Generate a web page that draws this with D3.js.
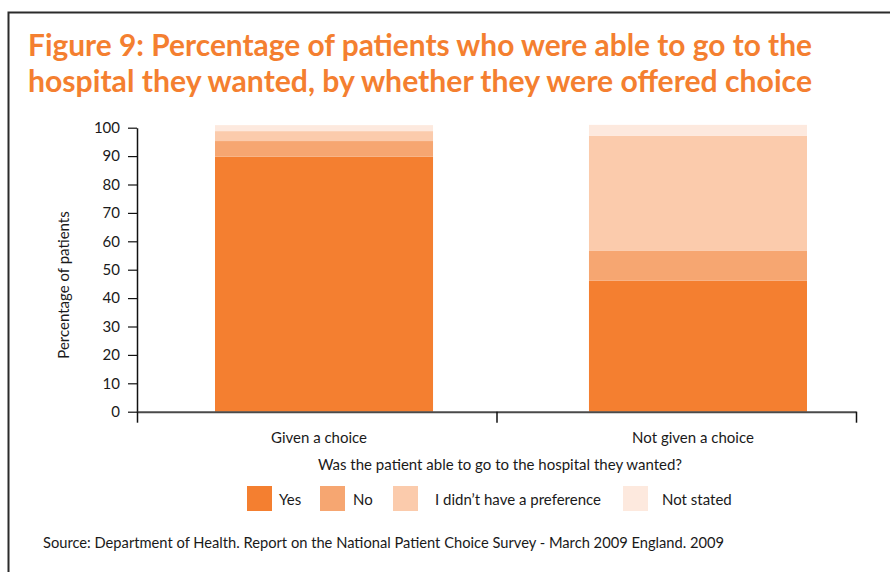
<!DOCTYPE html>
<html>
<head>
<meta charset="utf-8">
<script src="https://cdn.jsdelivr.net/npm/d3@7"></script>
<style>
  html, body { margin: 0; padding: 0; background: #fff; }
  svg { display: block; font-family: Lato, "Open Sans", sans-serif; }
</style>
</head>
<body>
<svg id="chart" width="890" height="572"></svg>
<script>
// ---- data ----
const categories = ["Given a choice", "Not given a choice"];
const seriesNames = ["Yes", "No", "I didn\u2019t have a preference", "Not stated"];
const yesValues = [89.8, 46.1];
const noValues = [5.5, 10.5];
const noPreferenceValues = [3.5, 40.6];
const notStatedValues = [2.1, 3.8];
const yTickValues = [0, 10, 20, 30, 40, 50, 60, 70, 80, 90, 100];

const titleLines = [
  "Figure 9: Percentage of patients who were able to go to the",
  "hospital they wanted, by whether they were offered choice"
];
const yAxisTitle = "Percentage of patients";
const xAxisTitle = "Was the patient able to go to the hospital they wanted?";
const sourceText = "Source: Department of Health. Report on the National Patient Choice Survey - March 2009 England. 2009";

// ---- styles / layout ----
const colors = ["#F47F30", "#F6A671", "#FBCBAC", "#FDE9DE"];
const legendX = [247, 320, 393, 623];
const legendTextX = [279, 353, 435, 662];
const titleWidths = [784, 784];

const table = categories.map((c, i) => ({
  category: c,
  [seriesNames[0]]: yesValues[i],
  [seriesNames[1]]: noValues[i],
  [seriesNames[2]]: noPreferenceValues[i],
  [seriesNames[3]]: notStatedValues[i]
}));

const svg = d3.select("#chart");

// border
svg.append("path")
  .attr("d", "M8.5,572 L8.5,12.5 L890,12.5")
  .attr("fill", "none")
  .attr("stroke", "#2b2b2b")
  .attr("stroke-width", 2);

// title
svg.append("g").selectAll("text")
  .data(titleLines)
  .join("text")
  .attr("x", 28)
  .attr("y", (d, i) => 56 + i * 36)
  .attr("fill", "#F47F30")
  .attr("font-weight", "bold")
  .attr("font-size", 30)
  .attr("textLength", (d, i) => titleWidths[i])
  .attr("lengthAdjust", "spacingAndGlyphs")
  .text(d => d);

// scales
const y = d3.scaleLinear().domain([0, 100]).range([411.7, 127.7]);
const x = d3.scaleBand().domain(categories).range([215, 807]).paddingInner(0.417).paddingOuter(0);
const xBound = d3.scaleLinear().domain([0, categories.length]).range([137, 856]);
const color = d3.scaleOrdinal().domain(seriesNames).range(colors);

const stack = d3.stack().keys(seriesNames);
const stacked = stack(table);

// bars
svg.append("g").selectAll("g")
  .data(stacked)
  .join("g")
  .attr("fill", d => color(d.key))
  .selectAll("rect")
  .data(d => d)
  .join("rect")
  .attr("x", d => x(d.data.category))
  .attr("width", x.bandwidth())
  .attr("y", d => y(d[1]))
  .attr("height", d => y(d[0]) - y(d[1]));

// y axis
const yAxis = svg.append("g")
  .attr("transform", "translate(137,0)")
  .call(d3.axisLeft(y).tickValues(yTickValues).tickSize(9).tickPadding(8).tickSizeOuter(0));
yAxis.select(".domain").attr("stroke", "#111").attr("stroke-width", 1.5);
yAxis.selectAll(".tick line").attr("stroke", "#111").attr("stroke-width", 1.2);
yAxis.selectAll(".tick text").attr("font-size", 15).attr("fill", "#1a1a1a")
  .attr("font-family", "Lato, sans-serif");

// x axis (category boundaries)
const xAxis = svg.append("g")
  .attr("transform", `translate(0,${y(0)})`)
  .call(d3.axisBottom(xBound).tickValues(d3.range(0, categories.length + 1)).tickFormat("").tickSize(11).tickSizeOuter(0));
xAxis.select(".domain").attr("stroke", "#4a4a4a").attr("stroke-width", 2);
xAxis.selectAll(".tick line").attr("stroke", "#111").attr("stroke-width", 1.5);

// category labels
svg.append("g").selectAll("text")
  .data(categories)
  .join("text")
  .attr("x", d => x(d) + x.bandwidth() / 2 - 5)
  .attr("y", 443)
  .attr("text-anchor", "middle")
  .attr("font-size", 15)
  .attr("fill", "#1a1a1a")
  .text(d => d);

// y axis title
svg.append("text")
  .attr("transform", "translate(69,285) rotate(-90)")
  .attr("text-anchor", "middle")
  .attr("font-size", 15)
  .attr("fill", "#1a1a1a")
  .text(yAxisTitle);

// x axis title
svg.append("text")
  .attr("x", 500)
  .attr("y", 470)
  .attr("text-anchor", "middle")
  .attr("font-size", 15)
  .attr("fill", "#1a1a1a")
  .text(xAxisTitle);

// legend
const legend = svg.append("g");
legend.selectAll("rect")
  .data(seriesNames)
  .join("rect")
  .attr("x", (d, i) => legendX[i])
  .attr("y", 486)
  .attr("width", 25)
  .attr("height", 25)
  .attr("fill", d => color(d));
legend.selectAll("text")
  .data(seriesNames)
  .join("text")
  .attr("x", (d, i) => legendTextX[i])
  .attr("y", 505)
  .attr("font-size", 15)
  .attr("fill", "#1a1a1a")
  .text(d => d);

// source
svg.append("text")
  .attr("x", 43)
  .attr("y", 548)
  .attr("font-size", 14.7)
  .attr("fill", "#1a1a1a")
  .text(sourceText);
</script>
</body>
</html>
